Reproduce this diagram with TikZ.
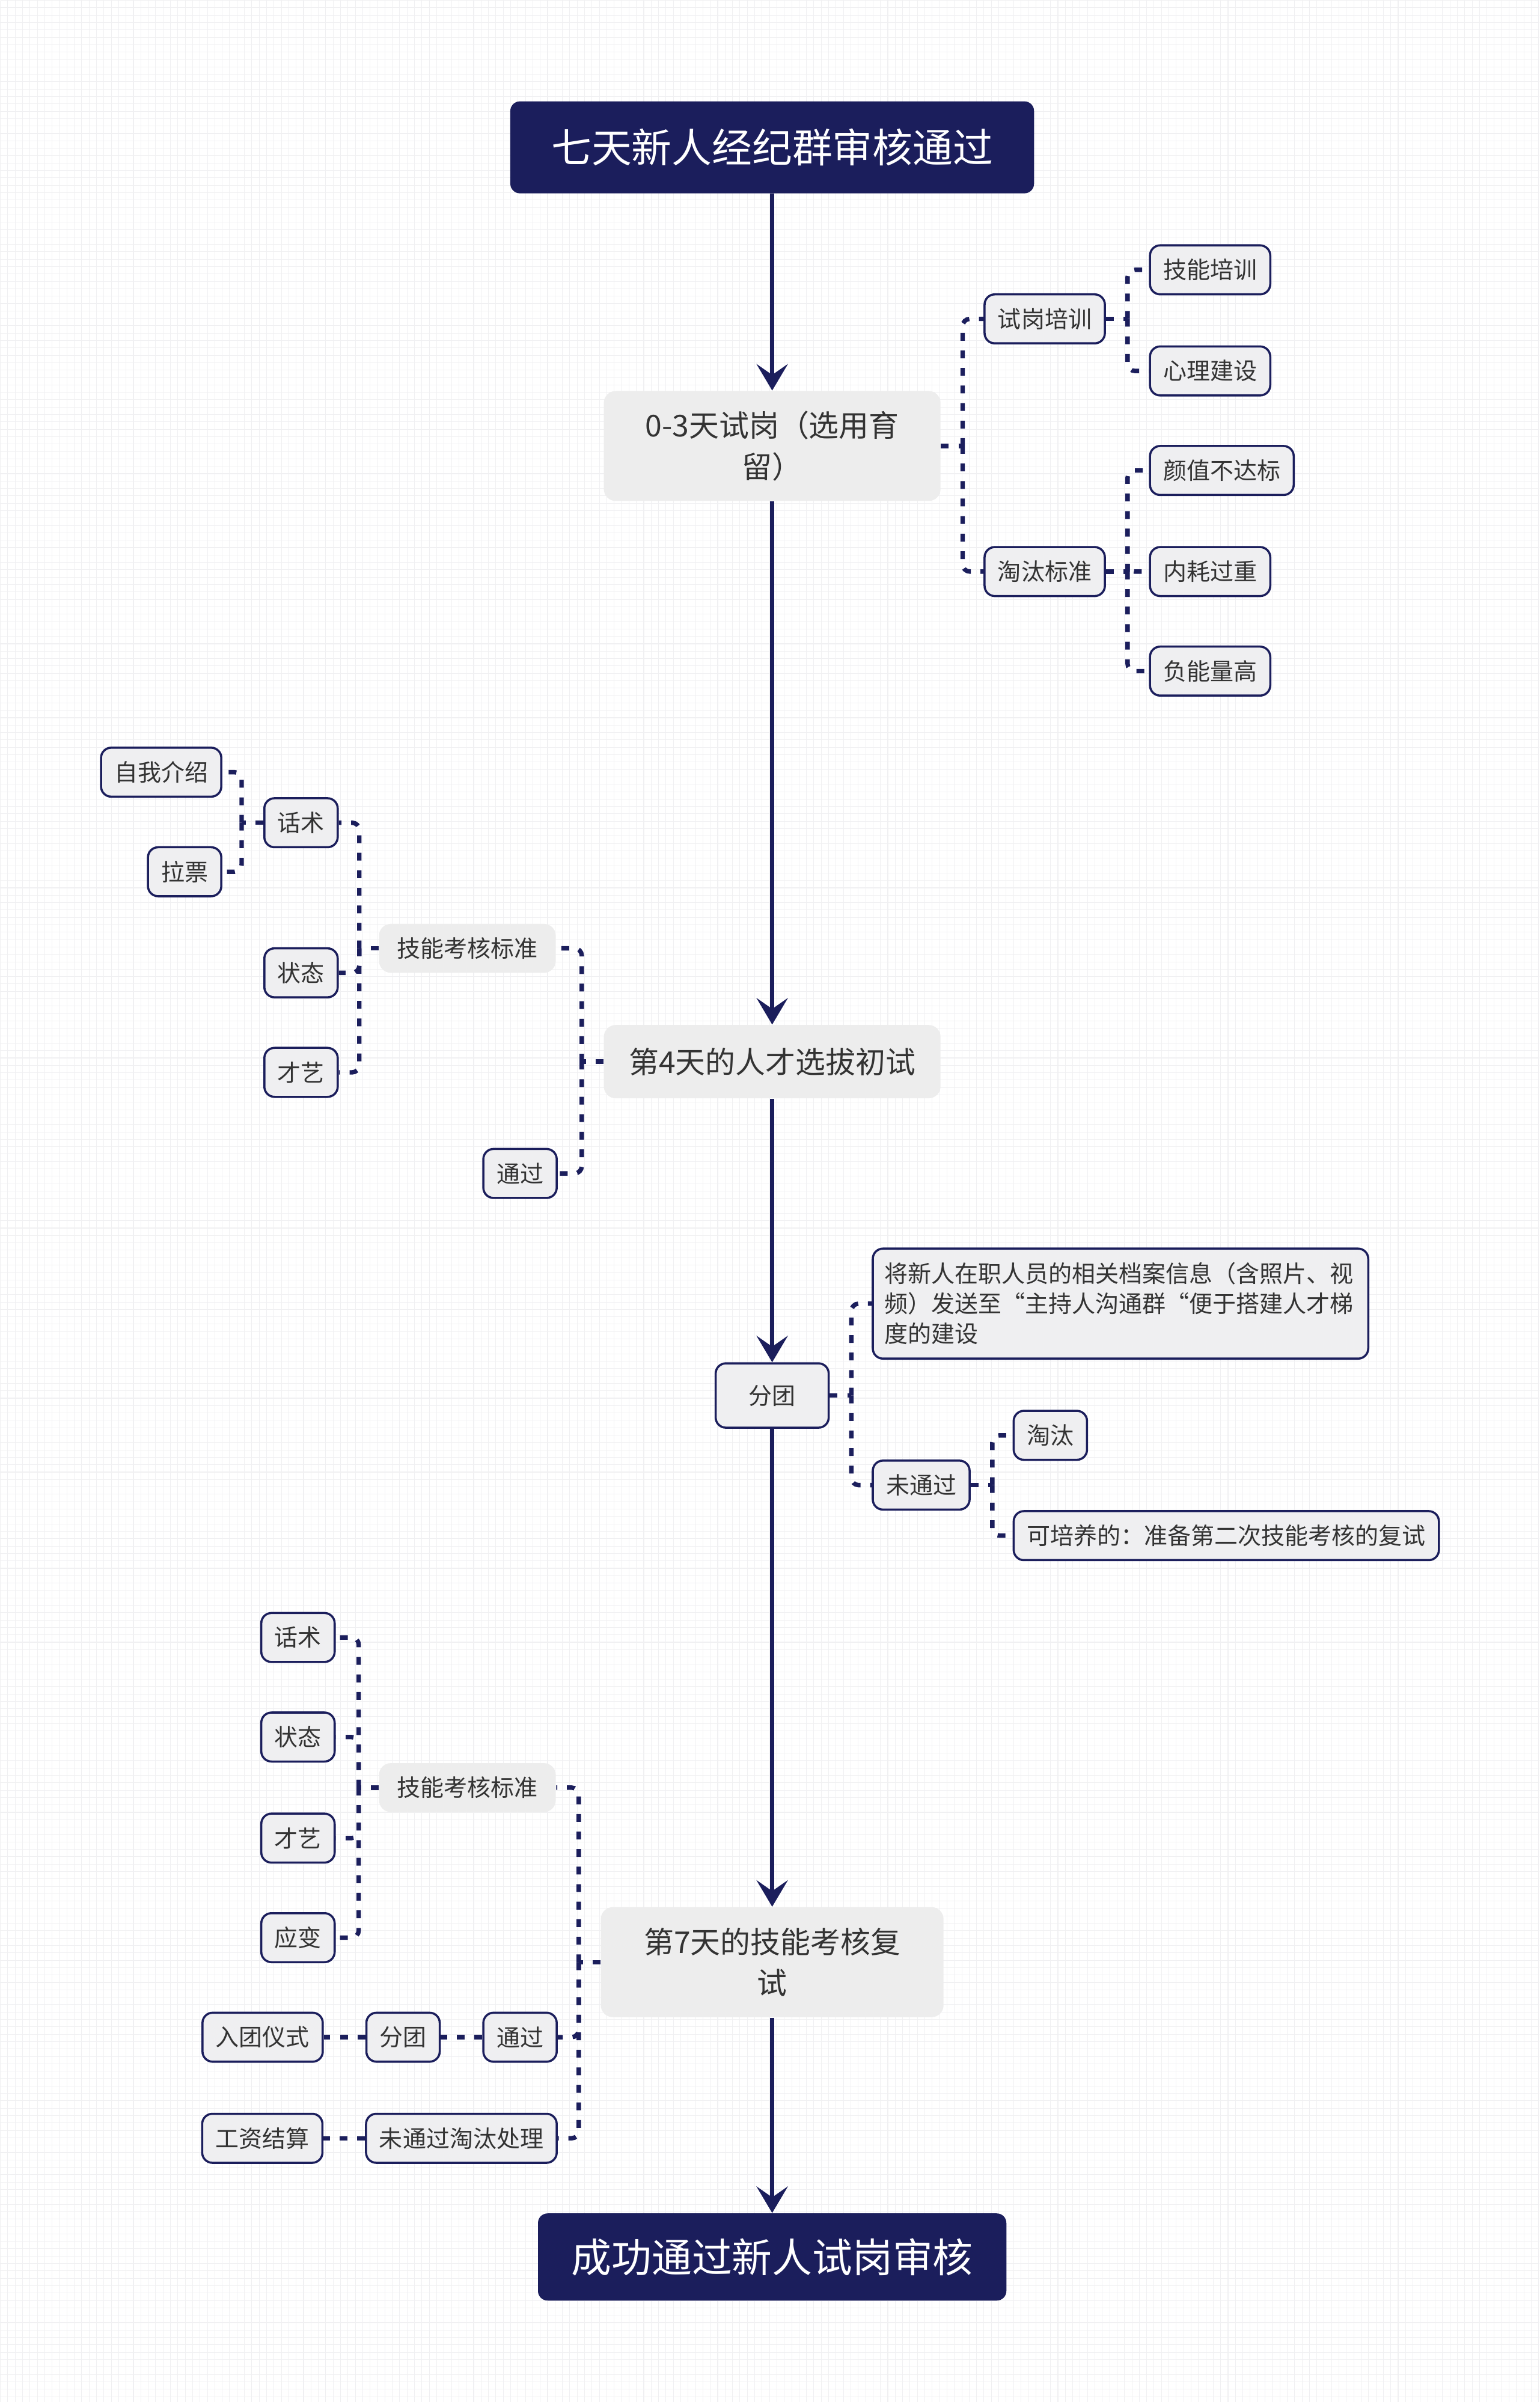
\documentclass[tikz,border=0pt]{standalone}
\usepackage{fontspec}
\setmainfont{Noto Sans CJK SC}
\usepackage{xcolor}
\usepackage{tikz}
\usetikzlibrary{arrows.meta,positioning,calc}
\definecolor{navy}{HTML}{1B1E5C}
\definecolor{ink}{HTML}{333333}
\definecolor{pale}{HTML}{EDEDED}
\definecolor{leafbg}{HTML}{EFEFF1}
\definecolor{gridc}{HTML}{F0F0F2}

\begin{document}
\begin{tikzpicture}[
    x=0.2547mm, y=-0.2547mm,
    node distance=6.9mm,
    hd/.style={rectangle, fill=navy, text=white, rounded corners=1.6mm, align=center, font=\fontsize{19}{23}\selectfont},
    stg/.style={rectangle, fill=pale, text=ink, rounded corners=2mm, align=center, minimum width=56mm, font=\fontsize{14.2}{19.5}\selectfont},
    lf/.style={rectangle, draw=navy, line width=1pt, fill=leafbg, text=ink, rounded corners=1.7mm, inner xsep=2.2mm, inner ysep=0pt, minimum height=8.15mm, font=\fontsize{11.1}{14.2}\selectfont},
    sub/.style={rectangle, fill=pale, text=ink, rounded corners=2mm, inner xsep=3mm, inner ysep=0pt, minimum height=8.15mm, font=\fontsize{11.1}{14.2}\selectfont},
    arr/.style={-{Stealth[length=4.4mm, width=5.2mm, inset=1.8mm]}, line width=2.1pt, draw=navy},
    lnk/.style={draw=navy, line width=2.1pt, dash pattern=on 3.7pt off 4.6pt, rounded corners=1.2mm}
]
    \fill[white] (0,0) rectangle (1005,1568);
    \draw[gridc, line width=0.3pt] (0,1568) grid[step=1.23mm] (1005,0);
    \useasboundingbox (0,0) rectangle (1005,1568);

    \node[hd, minimum width=87.1mm, minimum height=15.3mm] (t) at (504,96) {七天新人经纪群审核通过};

    \node[stg, minimum height=18.3mm] (d03) at (504,291) {0-3天试岗（选用育\\留）};
    \node[lf, anchor=west] (train) at (642,208) {试岗培训};
    \node[lf, anchor=west] (elim) at (642,373) {淘汰标准};
    \node[lf, anchor=west] (skill) at (750,176) {技能培训};
    \node[lf, anchor=west] (mind) at (750,242) {心理建设};
    \node[lf, anchor=west] (looks) at (750,307) {颜值不达标};
    \node[lf, anchor=west] (drain) at (750,373) {内耗过重};
    \node[lf, anchor=west] (neg) at (750,438) {负能量高};

    \node[stg, minimum height=12.2mm] (d4) at (504,693) {第4天的人才选拔初试};
    \node[sub, anchor=east] (std1) at (363,619) {技能考核标准};
    \node[lf, anchor=east] (pass1) at (364,766) {通过};
    \node[lf, anchor=east] (talk1) at (221,537) {话术};
    \node[lf, anchor=east] (state1) at (221,635) {状态};
    \node[lf, anchor=east] (art1) at (221,700) {才艺};
    \node[lf, anchor=east] (intro) at (145,504) {自我介绍};
    \node[lf, anchor=east] (vote) at (145,569) {拉票};

    \node[lf, minimum width=18.8mm, minimum height=10.7mm] (grp) at (504,911) {分团};
    \node[lf, anchor=west, text width=78.6mm, inner xsep=1.9mm, minimum height=18.3mm, align=left] (note) at (569,851) {将新人在职人员的相关档案信息（含照片、视\\频）发送至“主持人沟通群“便于搭建人才梯\\度的建设};
    \node[lf, anchor=west] (fail) at (569,969.5) {未通过};
    \node[lf, anchor=west] (out) at (661,937) {淘汰};
    \node[lf, anchor=west] (keep) at (661,1002.5) {可培养的：准备第二次技能考核的复试};

    \node[stg, minimum width=57mm, minimum height=18.3mm] (d7) at (504,1281) {第7天的技能考核复\\试};
    \node[sub, anchor=east] (std2) at (363,1167) {技能考核标准};
    \node[lf, anchor=east] (pass2) at (364,1330) {通过};
    \node[lf, left=of pass2] (grp2) {分团};
    \node[lf, left=of grp2] (rite) {入团仪式};
    \node[lf, anchor=east] (drop) at (364,1396) {未通过淘汰处理};
    \node[lf, left=of drop] (pay) {工资结算};
    \node[lf, anchor=east] (talk2) at (219,1069) {话术};
    \node[lf, anchor=east] (state2) at (219,1134) {状态};
    \node[lf, anchor=east] (art2) at (219,1200) {才艺};
    \node[lf, anchor=east] (adapt2) at (219,1265) {应变};

    \node[hd, minimum width=77.9mm, minimum height=14.5mm] (fin) at (504,1473.5) {成功通过新人试岗审核};

    \draw[arr] (t.south) -- (d03.north);
    \draw[arr] (d03.south) -- (d4.north);
    \draw[arr] (d4.south) -- (grp.north);
    \draw[arr] (grp.south) -- (d7.north);
    \draw[arr] (d7.south) -- (fin.north);

    \coordinate (ja) at ([xshift=3.6mm]d03.east);
    \draw[lnk] (d03.east) -- (ja);
    \draw[lnk] (ja) |- (train.west);
    \draw[lnk] (ja) |- (elim.west);
    \coordinate (jb) at ([xshift=3.6mm]train.east);
    \draw[lnk] (train.east) -- (jb);
    \draw[lnk] (jb) |- (skill.west);
    \draw[lnk] (jb) |- (mind.west);
    \coordinate (jc) at ([xshift=3.6mm]elim.east);
    \draw[lnk] (elim.east) -- (jc);
    \draw[lnk] (jc) |- (looks.west);
    \draw[lnk] (jc) |- (drain.west);
    \draw[lnk] (jc) |- (neg.west);

    \coordinate (jd) at ([xshift=-3.6mm]d4.west);
    \draw[lnk] (d4.west) -- (jd);
    \draw[lnk] (jd) |- (std1.east);
    \draw[lnk] (jd) |- (pass1.east);
    \coordinate (je) at ([xshift=-3.2mm]std1.west);
    \draw[lnk] (std1.west) -- (je);
    \draw[lnk] (je) |- (talk1.east);
    \draw[lnk] (je) |- (state1.east);
    \draw[lnk] (je) |- (art1.east);
    \coordinate (jf) at ([xshift=-3.6mm]talk1.west);
    \draw[lnk] (talk1.west) -- (jf);
    \draw[lnk] (jf) |- (intro.east);
    \draw[lnk] (jf) |- (vote.east);

    \coordinate (jg) at ([xshift=3.6mm]grp.east);
    \draw[lnk] (grp.east) -- (jg);
    \draw[lnk] (jg) |- (note.west);
    \draw[lnk] (jg) |- (fail.west);
    \coordinate (jh) at ([xshift=3.6mm]fail.east);
    \draw[lnk] (fail.east) -- (jh);
    \draw[lnk] (jh) |- (out.west);
    \draw[lnk] (jh) |- (keep.west);

    \coordinate (ji) at ([xshift=-3.6mm]d7.west);
    \draw[lnk] (d7.west) -- (ji);
    \draw[lnk] (ji) |- (std2.east);
    \draw[lnk] (ji) |- (pass2.east);
    \draw[lnk] (ji) |- (drop.east);
    \coordinate (jk) at ([xshift=-3.3mm]std2.west);
    \draw[lnk] (std2.west) -- (jk);
    \draw[lnk] (jk) |- (talk2.east);
    \draw[lnk] (jk) |- (state2.east);
    \draw[lnk] (jk) |- (art2.east);
    \draw[lnk] (jk) |- (adapt2.east);
    \draw[lnk] (pass2.west) -- (grp2.east);
    \draw[lnk] (grp2.west) -- (rite.east);
    \draw[lnk] (drop.west) -- (pay.east);
\end{tikzpicture}
\end{document}
